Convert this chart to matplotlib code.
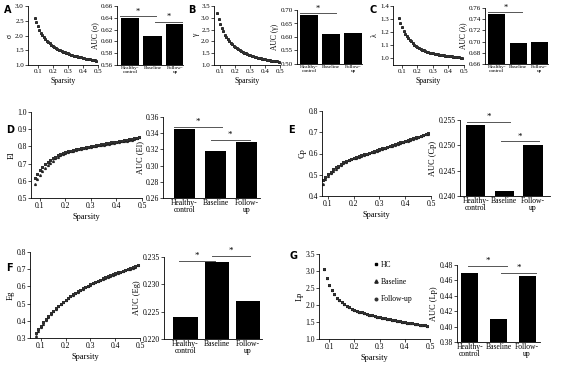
#!/usr/bin/env python3

# Small-world / network metrics vs sparsity, with AUC bar charts per metric.

import numpy as np
import matplotlib
matplotlib.use("Agg")
import matplotlib.pyplot as plt
from matplotlib.ticker import FormatStrFormatter

plt.rcParams['font.family'] = ['Liberation Serif', 'DejaVu Serif']

W, H = 562, 368

sparsity = [0.08, 0.09, 0.10, 0.11, 0.12, 0.13, 0.14, 0.15, 0.16, 0.17,
            0.18, 0.19, 0.20, 0.21, 0.22, 0.23, 0.24, 0.25, 0.26, 0.27,
            0.28, 0.29, 0.30, 0.31, 0.32, 0.33, 0.34, 0.35, 0.36, 0.37,
            0.38, 0.39, 0.40, 0.41, 0.42, 0.43, 0.44, 0.45, 0.46, 0.47,
            0.48, 0.49]

groups = ['Healthy-\ncontrol', 'Baseline', 'Follow-\nup']

# curve values (HC; baseline/follow-up drawn on top, near identical)
sigma = [2.60, 2.45, 2.32, 2.20, 2.10, 2.02, 1.95, 1.89, 1.83, 1.78,
         1.73, 1.69, 1.65, 1.62, 1.58, 1.55, 1.52, 1.50, 1.47, 1.45,
         1.43, 1.41, 1.39, 1.37, 1.35, 1.34, 1.32, 1.31, 1.29, 1.28,
         1.27, 1.26, 1.24, 1.23, 1.22, 1.21, 1.20, 1.19, 1.18, 1.17,
         1.16, 1.15]
gamma = [3.20, 2.95, 2.75, 2.57, 2.42, 2.29, 2.19, 2.10, 2.02, 1.94,
         1.87, 1.81, 1.76, 1.71, 1.66, 1.62, 1.58, 1.55, 1.52, 1.49,
         1.46, 1.43, 1.41, 1.39, 1.37, 1.35, 1.33, 1.31, 1.29, 1.28,
         1.26, 1.25, 1.24, 1.22, 1.21, 1.20, 1.19, 1.18, 1.17, 1.16,
         1.15, 1.14]
lam = [1.310, 1.270, 1.240, 1.210, 1.190, 1.170, 1.155, 1.140, 1.130, 1.120,
       1.105, 1.095, 1.085, 1.078, 1.072, 1.066, 1.061, 1.056, 1.052, 1.048,
       1.045, 1.042, 1.039, 1.036, 1.034, 1.032, 1.030, 1.028, 1.026, 1.024,
       1.022, 1.020, 1.018, 1.016, 1.015, 1.013, 1.012, 1.010, 1.009, 1.008,
       1.006, 1.005]
el = [0.615, 0.640, 0.660, 0.680, 0.695, 0.710, 0.720, 0.730, 0.740, 0.748,
      0.755, 0.762, 0.767, 0.772, 0.776, 0.780, 0.784, 0.787, 0.790, 0.793,
      0.796, 0.799, 0.802, 0.805, 0.808, 0.810, 0.813, 0.815, 0.818, 0.820,
      0.823, 0.826, 0.828, 0.831, 0.833, 0.836, 0.838, 0.841, 0.844, 0.847,
      0.851, 0.856]
el_base = [0.580, 0.610, 0.635, 0.655, 0.675, 0.690, 0.705, 0.718, 0.730, 0.740,
           0.750, 0.757, 0.762, 0.767, 0.771, 0.775, 0.779, 0.782, 0.786, 0.789,
           0.792, 0.795, 0.798, 0.801, 0.804, 0.806, 0.809, 0.811, 0.814, 0.816,
           0.819, 0.822, 0.824, 0.827, 0.829, 0.832, 0.834, 0.837, 0.840, 0.843,
           0.847, 0.852]
cp = [0.475, 0.490, 0.503, 0.515, 0.525, 0.535, 0.543, 0.551, 0.560, 0.566,
      0.571, 0.576, 0.580, 0.584, 0.588, 0.592, 0.596, 0.600, 0.604, 0.608,
      0.612, 0.616, 0.620, 0.624, 0.628, 0.632, 0.636, 0.640, 0.644, 0.648,
      0.652, 0.656, 0.660, 0.664, 0.668, 0.672, 0.676, 0.680, 0.684, 0.688,
      0.692, 0.696]
cp_base = [0.458, 0.478, 0.493, 0.507, 0.518, 0.529, 0.538, 0.547, 0.556, 0.562,
           0.568, 0.573, 0.577, 0.581, 0.585, 0.589, 0.593, 0.597, 0.601, 0.605,
           0.609, 0.613, 0.617, 0.621, 0.625, 0.629, 0.633, 0.637, 0.641, 0.645,
           0.649, 0.653, 0.657, 0.661, 0.665, 0.669, 0.673, 0.677, 0.681, 0.685,
           0.690, 0.694]
eg = [0.330, 0.352, 0.372, 0.392, 0.410, 0.428, 0.444, 0.459, 0.474, 0.488,
      0.500, 0.512, 0.523, 0.534, 0.544, 0.554, 0.563, 0.572, 0.581, 0.589,
      0.597, 0.605, 0.612, 0.619, 0.626, 0.633, 0.640, 0.646, 0.652, 0.658,
      0.664, 0.670, 0.676, 0.681, 0.686, 0.691, 0.696, 0.701, 0.706, 0.711,
      0.716, 0.725]
eg_base = [0.310, 0.338, 0.362, 0.384, 0.404, 0.423, 0.440, 0.456, 0.471, 0.486,
           0.498, 0.510, 0.521, 0.532, 0.542, 0.552, 0.561, 0.570, 0.579, 0.587,
           0.595, 0.603, 0.610, 0.617, 0.624, 0.631, 0.638, 0.644, 0.650, 0.656,
           0.662, 0.668, 0.674, 0.679, 0.684, 0.689, 0.694, 0.699, 0.704, 0.709,
           0.714, 0.723]
lp = [3.05, 2.80, 2.60, 2.44, 2.32, 2.22, 2.14, 2.08, 2.02, 1.97,
      1.93, 1.89, 1.86, 1.83, 1.80, 1.78, 1.76, 1.74, 1.72, 1.70,
      1.68, 1.66, 1.64, 1.62, 1.61, 1.59, 1.58, 1.56, 1.55, 1.53,
      1.52, 1.51, 1.50, 1.48, 1.47, 1.46, 1.45, 1.44, 1.42, 1.41,
      1.40, 1.38]

# AUC bars: HC, Baseline, Follow-up
auc_sigma = [0.640, 0.610, 0.630]
auc_gamma = [0.680, 0.612, 0.613]
auc_lam = [0.750, 0.697, 0.700]
auc_el = [0.345, 0.318, 0.329]
auc_cp = [0.254, 0.241, 0.250]
auc_eg = [0.224, 0.234, 0.227]
auc_lp = [0.470, 0.410, 0.466]


fig = plt.figure(figsize=(W / 100, H / 100), dpi=100)


def ax_px(left, top, right, bottom):
    return fig.add_axes([left / W, 1 - bottom / H, (right - left) / W, (bottom - top) / H])


def style(ax, fs):
    for s in ['top', 'right']:
        ax.spines[s].set_visible(False)
    for s in ['left', 'bottom']:
        ax.spines[s].set_linewidth(0.6)
    ax.tick_params(labelsize=fs, width=0.5, length=2, pad=1)


def line_panel(box, hc, base, xl, yl, yticks, ylabel, fs, ms=1.3, fmt='%.1f', legend=False):
    ax = ax_px(*box)
    style(ax, fs)
    b = base if base is not None else hc
    ax.plot(sparsity, b, ls='none', marker='^', ms=ms, color='#222222', label='Baseline')
    ax.plot(sparsity, hc, ls='none', marker='s', ms=ms * 0.9, color='black', label='HC')
    ax.plot(sparsity, hc, ls='none', marker='o', ms=ms * 0.8, color='#333333', label='Follow-up')
    ax.set_xlim(xl, 0.5)
    ax.set_ylim(*yl)
    ax.set_xticks([0.1, 0.2, 0.3, 0.4, 0.5])
    ax.set_yticks(yticks)
    ax.yaxis.set_major_formatter(FormatStrFormatter(fmt))
    ax.set_xlabel('Sparsity', fontsize=fs + 0.5, labelpad=2)
    ax.set_ylabel(ylabel, fontsize=fs + 0.5, labelpad=1)
    if legend:
        h, l = ax.get_legend_handles_labels()
        ax.legend([h[1], h[0], h[2]], ['HC', 'Baseline', 'Follow-up'], frameon=False,
                  fontsize=fs, loc='upper left', bbox_to_anchor=(0.42, 1.0),
                  handletextpad=0.3, labelspacing=1.2, handlelength=0.8, markerscale=1.8)
    return ax


def bar_panel(box, vals, yl, yticks, ylabel, fs, fmt, sigs, xl=(-0.6, 2.4), width=0.75, xfs=None):
    ax = ax_px(*box)
    style(ax, fs)
    ax.bar(range(3), vals, width=width, color='black', bottom=0)
    ax.set_xlim(*xl)
    ax.set_ylim(*yl)
    ax.set_yticks(yticks)
    ax.yaxis.set_major_formatter(FormatStrFormatter(fmt))
    ax.set_xticks(range(3))
    ax.set_xticklabels(groups, fontsize=xfs or fs - 0.5, linespacing=0.8)
    ax.tick_params(axis='x', length=0)
    ax.set_ylabel(ylabel, fontsize=fs + 0.5, labelpad=1)
    span = yl[1] - yl[0]
    for x0, x1, y in sigs:
        ax.plot([x0, x1], [y, y], color='#555555', lw=0.7, clip_on=False)
        ax.text((x0 + x1) / 2, y + span * 0.01, '*', ha='center', va='bottom',
                fontsize=fs + 1, clip_on=False)
    return ax


# top row
line_panel((28, 6, 98, 65), sigma, None, 0.035, (1.0, 3.0), [1.0, 1.5, 2.0, 2.5, 3.0], 'σ', 5, ms=1.1)
bar_panel((117, 6, 183, 65), auc_sigma, (0.56, 0.66), [0.56, 0.58, 0.60, 0.62, 0.64, 0.66],
          'AUC (σ)', 5, '%.2f', [(-0.45, 1.15, 0.643), (1.1, 2.3, 0.633)],
          xl=(-0.57, 2.35), width=0.8, xfs=3.8)

line_panel((214, 6, 280, 65), gamma, None, 0.06, (1.0, 3.5), [1.0, 1.5, 2.0, 2.5, 3.0, 3.5], 'γ', 5, ms=1.1)
bar_panel((297, 10, 362, 64), auc_gamma, (0.50, 0.70), [0.50, 0.55, 0.60, 0.65, 0.70],
          'AUC (γ)', 5, '%.2f', [(-0.4, 1.2, 0.689)],
          xl=(-0.55, 2.4), width=0.8, xfs=3.8)

line_panel((393, 6, 464, 65), lam, None, 0.042, (0.95, 1.4), [1.0, 1.1, 1.2, 1.3, 1.4], 'λ', 5, ms=1.1)
bar_panel((485, 8, 548, 64), auc_lam, (0.66, 0.76), [0.66, 0.68, 0.70, 0.72, 0.74, 0.76],
          'AUC (λ)', 5, '%.2f', [(-0.4, 1.2, 0.752)],
          xl=(-0.55, 2.4), width=0.8, xfs=3.8)

# middle row
line_panel((31, 112, 142, 198), el, el_base, 0.065, (0.5, 1.0), [0.5, 0.6, 0.7, 0.8, 0.9, 1.0], 'El', 5.5)
bar_panel((163, 117, 260, 198), auc_el, (0.26, 0.36), [0.26, 0.28, 0.30, 0.32, 0.34, 0.36],
          'AUC (El)', 5.5, '%.2f', [(-0.35, 1.2, 0.348), (0.85, 2.1, 0.3315)],
          xl=(-0.69, 2.43), width=0.68, xfs=5.5)

line_panel((322, 111, 431, 196), cp, cp_base, 0.077, (0.4, 0.8), [0.4, 0.5, 0.6, 0.7, 0.8], 'Cp', 5.5)
bar_panel((460, 120, 550, 196), auc_cp, (0.240, 0.255), [0.240, 0.245, 0.250, 0.255],
          'AUC (Cp)', 5.5, '%.3f', [(-0.3, 1.2, 0.2547), (0.9, 2.2, 0.2508)],
          xl=(-0.55, 2.6), width=0.68, xfs=5.5)

# bottom row
line_panel((30, 252, 140, 338), eg, eg_base, 0.057, (0.3, 0.8), [0.3, 0.4, 0.5, 0.6, 0.7, 0.8], 'Eg', 5.5)
bar_panel((164, 257, 262, 339), auc_eg, (0.220, 0.235), [0.220, 0.225, 0.230, 0.235],
          'AUC (Eg)', 5.5, '%.3f', [(-0.2, 0.95, 0.2343), (0.85, 2.05, 0.2352)],
          xl=(-0.69, 2.45), width=0.78, xfs=5.5)

line_panel((319, 254, 430, 339), lp, None, 0.06, (1.0, 3.5), [1.0, 1.5, 2.0, 2.5, 3.0, 3.5], 'Lp', 5.5,
           legend=True)
bar_panel((457, 265, 540, 342), auc_lp, (0.38, 0.48), [0.38, 0.40, 0.42, 0.44, 0.46, 0.48],
          'AUC (Lp)', 5.5, '%.2f', [(-0.05, 1.3, 0.479), (1.1, 2.3, 0.4695)],
          xl=(-0.45, 2.45), width=0.6, xfs=5.5)

# panel letters
for x, y, t in [(4, 10, 'A'), (188, 10, 'B'), (370, 10, 'C'), (6, 130, 'D'),
                (288, 130, 'E'), (6, 268, 'F'), (290, 256, 'G')]:
    fig.text(x / W, 1 - y / H, t, fontsize=7, fontweight='bold', family='DejaVu Sans',
             ha='left', va='center')

fig.savefig('out.png', dpi=100)
